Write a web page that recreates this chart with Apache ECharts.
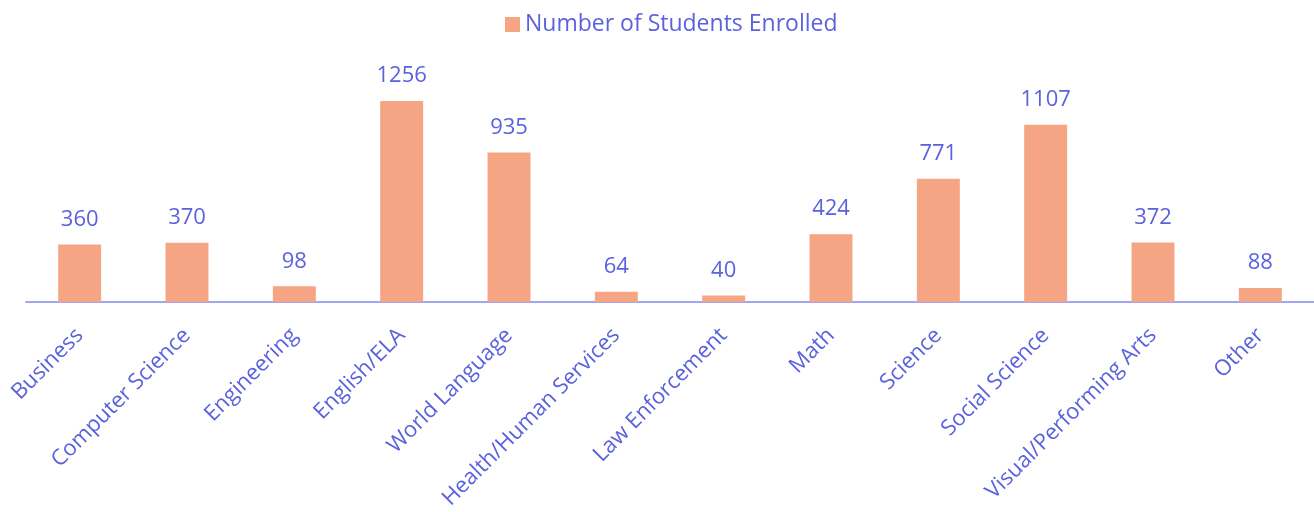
<!DOCTYPE html>
<html>
<head>
<meta charset="utf-8">
<script src="https://cdn.jsdelivr.net/npm/echarts@6/dist/echarts.min.js"></script>
<style>
html,body{margin:0;padding:0;background:#fff;}
#main{width:1314px;height:512px;}
</style>
</head>
<body>
<div id="main"></div>
<script>
// 数据
var categories = ['Business','Computer Science','Engineering','English/ELA','World Language','Health/Human Services','Law Enforcement','Math','Science','Social Science','Visual/Performing Arts','Other'];
var enrolled = [360,370,98,1256,935,64,40,424,771,1107,372,88];
var seriesName = 'Number of Students Enrolled';

var textColor = '#5B62DD';
var fontFam = 'Open Sans';

var myChart = echarts.init(document.getElementById('main'));
var option = {
    animation: false,
    legend: {
        data: [seriesName],
        top: 8,
        left: 500,
        itemWidth: 15,
        itemHeight: 15,
        itemGap: 8,
        icon: 'rect',
        textStyle: {color: textColor, fontSize: 23, fontFamily: fontFam}
    },
    grid: {
        left: 26,
        right: 0,
        top: 78,
        bottom: 210,
        containLabel: false
    },
    xAxis: {
        type: 'category',
        data: categories,
        axisTick: {show: false},
        axisLine: {show: true, lineStyle: {color: '#A3A6EE', width: 2}},
        axisLabel: {
            rotate: 45,
            interval: 0,
            margin: 30,
            color: textColor,
            fontSize: 22,
            fontFamily: fontFam
        }
    },
    yAxis: {
        type: 'value',
        min: 0,
        max: 1400,
        show: false,
        splitLine: {show: false}
    },
    series: [
        {
            name: seriesName,
            type: 'bar',
            barWidth: '40%',
            data: enrolled,
            itemStyle: {color: '#F5A584'},
            label: {
                show: true,
                position: 'top',
                distance: 14,
                color: textColor,
                fontSize: 22,
                fontFamily: fontFam
            }
        }
    ]
};
myChart.setOption(option);
</script>
</body>
</html>
